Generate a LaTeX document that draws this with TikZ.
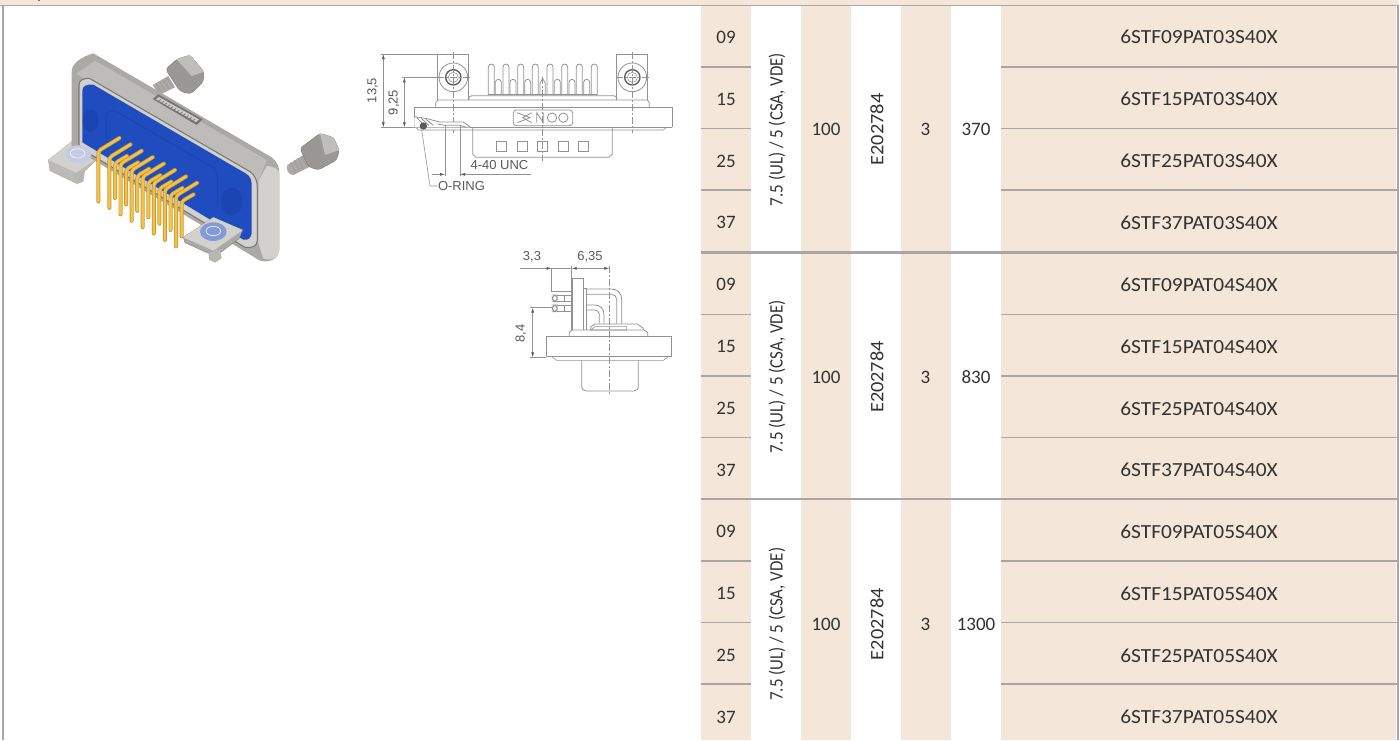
\documentclass[tikz,border=0pt]{standalone}
\usepackage{fontspec}
\setmainfont{Carlito}
\newfontfamily\tabfont{Carlito}
\newfontfamily\codefont[FakeStretch=1.07]{Carlito}
\newfontfamily\drawfont{Liberation Sans}
\usetikzlibrary{arrows.meta}
\definecolor{tan}{HTML}{F4E6D8}
\definecolor{rule}{HTML}{A9A7A5}
\definecolor{techline}{HTML}{929292}
\definecolor{techtext}{HTML}{5A5A5A}
\definecolor{tabtext}{HTML}{333333}
\definecolor{steel}{HTML}{ABA9A5}
\definecolor{steellight}{HTML}{D2D1CD}
\definecolor{steeldark}{HTML}{76756F}
\definecolor{blueb}{HTML}{1F4DC0}
\definecolor{bluedark}{HTML}{1A45B2}
\definecolor{goldd}{HTML}{C4952F}
\definecolor{goldl}{HTML}{F2C14A}
\definecolor{ringa}{HTML}{8399DA}
\definecolor{ringb}{HTML}{C3CCE2}
\tikzset{
  tabtxt/.style={font=\tabfont\fontsize{19}{21}\selectfont,text=tabtext,inner sep=0pt,anchor=center},
  codetxt/.style={font=\codefont\fontsize{20}{22}\selectfont,text=tabtext,inner sep=0pt,anchor=center},
  certtxt/.style={font=\codefont\fontsize{19}{21}\selectfont,text=tabtext,inner sep=0pt,anchor=center},
  rowrule/.style={draw=rule,line width=1.3pt},
  grouprule/.style={draw=rule,line width=2.2pt},
  tl/.style={draw=techline,line width=.8pt},
  tlfine/.style={draw=techline,line width=.6pt},
  centre/.style={draw=techline,line width=.6pt,dash pattern=on 7pt off 2pt on 2pt off 2pt},
  dimarrow/.style={draw=techline,line width=.7pt,-{Latex[length=5pt,width=3pt,color=techtext]}},
  dimtwo/.style={draw=techline,line width=.7pt,{Latex[length=5pt,width=3pt,color=techtext]}-{Latex[length=5pt,width=3pt,color=techtext]}},
  dimtxt/.style={font=\drawfont\fontsize{13}{14}\selectfont,text=techtext,inner sep=0pt,anchor=center},
  pinback/.style={draw=goldd,line width=4pt,line cap=round,rounded corners=3pt},
  pinfront/.style={draw=goldl,line width=2.6pt,line cap=round,rounded corners=3pt},
  nutbody/.style={fill=steel!90!black,draw=steel!70!black,line width=.4pt,rounded corners=3pt},
}
\begin{document}
\begin{tikzpicture}[x=1pt,y=-1pt]
\useasboundingbox (0,0) rectangle (1399,740);
\fill[white] (0,0) rectangle (1399,740);
% header band
\fill[tan] (0,0) rectangle (1399,5);
\fill[steeldark] (37.5,0) rectangle (39.5,1);
\draw[rule,line width=1.6pt] (0,5.6) -- (1399,5.6);
\draw[rule,line width=1.6pt] (2.8,6) -- (2.8,740);
% table columns
\fill[tan] (701,6) rectangle (751,740);
\fill[tan] (801,6) rectangle (851,740);
\fill[tan] (901,6) rectangle (951,740);
\fill[tan] (1001,6) rectangle (1396,740);
\fill[rule] (1396.5,6) rectangle (1399,740);
% rules
\foreach \yy in {67,128.5,190,314.5,376,437.5,561,622.5,684}{
  \draw[rowrule] (701,\yy) -- (751,\yy);
  \draw[rowrule] (1001,\yy) -- (1397,\yy);
}
\foreach \yy in {252.5,499.3}{\draw[grouprule] (701,\yy) -- (1397,\yy);}
% table rows
\foreach \g/\sx/\cur/\base in {a/03/370/0,b/04/830/247.5,c/05/1300/494.7}{
  \pgfmathsetmacro{\ya}{37+\base}
  \pgfmathsetmacro{\yb}{99+\base}
  \pgfmathsetmacro{\yc}{161+\base}
  \pgfmathsetmacro{\yd}{222.5+\base}
  \pgfmathsetmacro{\ym}{129.5+\base}
  \node[tabtxt] (size09\g) at (726,\ya) {09};
  \node[tabtxt] (size15\g) at (726,\yb) {15};
  \node[tabtxt] (size25\g) at (726,\yc) {25};
  \node[tabtxt] (size37\g) at (726,\yd) {37};
  \node[tabtxt,rotate=90] (volt\g) at (777,\ym) {\scalebox{.89}[1]{7.5 (UL) / 5 (CSA, VDE)}};
  \node[tabtxt] (pot\g) at (826,\ym) {100};
  \node[certtxt,rotate=90] (cert\g) at (877,\ym) {E202784};
  \node[tabtxt] (kv\g) at (925.5,\ym) {3};
  \node[tabtxt] (cur\g) at (976,\ym) {\cur};
  \node[codetxt] (code09\g) at (1199,\ya) {6STF09PAT\sx S40X};
  \node[codetxt] (code15\g) at (1199,\yb) {6STF15PAT\sx S40X};
  \node[codetxt] (code25\g) at (1199,\yc) {6STF25PAT\sx S40X};
  \node[codetxt] (code37\g) at (1199,\yd) {6STF37PAT\sx S40X};
}
% ---------- 3D connector (coordinates in 3x zoom units)
\begin{scope}[x=.33333pt,y=-.33333pt]
  % back screw
  \fill[steel] (458,255) -- (505,228) -- (525,262) -- (478,285) -- cycle;
  \foreach \k in {0,1,2,3}{\draw[steeldark!70,line width=.9pt] (468+\k*11,252-\k*6) -- (486+\k*11,280-\k*6);}
  \fill[nutbody] (497,208) -- (530,178) -- (570,165) -- (612,215) -- (610,245) -- (572,282) -- (540,274) -- cycle;
  \fill[steel!75!white] (530,178) -- (570,165) -- (612,215) -- (575,228) -- cycle;
  % left bracket (behind frame)
  \fill[steel!80!white,draw=steel] (145,480) -- (215,425) -- (300,470) -- (255,512) -- (225,548) -- (150,512) -- cycle;
  \fill[steellight] (145,480) -- (215,425) -- (300,470) -- (228,518) -- cycle;
  \fill[steel!85!white] (220,525) -- (255,512) -- (250,545) -- (228,553) -- cycle;
  % frame
  \fill[steel] (215,215) .. controls (215,190) and (245,170) .. (280,160) -- (815,472) .. controls (832,485) and (838,500) .. (838,520) -- (838,745) .. controls (838,775) and (810,790) .. (780,782) -- (215,440) -- cycle;
  \fill[steellight] (775,545) -- (800,498) .. controls (825,500) and (838,505) .. (838,530) -- (838,745) .. controls (838,770) and (815,785) .. (790,775) -- (775,730) -- cycle;
  \fill[steel!78!white] (228,222) -- (285,182) -- (800,480) -- (775,545) -- (262,240) -- cycle;
  % recess
  \fill[steellight,draw=steeldark,line width=1pt] (237,255) .. controls (237,240) and (250,235) .. (268,235) -- (750,515) .. controls (768,528) and (772,545) .. (772,565) -- (772,720) .. controls (772,740) and (755,745) .. (735,742) -- (237,442) -- cycle;
  % blue insert
  \fill[blueb] (247,272) .. controls (247,258) and (260,252) .. (280,254) -- (740,522) .. controls (752,530) and (755,542) .. (755,556) -- (755,698) .. controls (755,713) and (744,722) .. (730,719) -- (247,427) -- cycle;
  \draw[bluedark,line width=1pt] (320,420) -- (320,345) .. controls (322,332) and (335,328) .. (350,335) -- (635,500) .. controls (650,510) and (652,520) .. (652,535) -- (652,620);
  \fill[bluedark] (695,605) ellipse [x radius=32,y radius=42];
  \fill[bluedark] (272,362) ellipse [x radius=24,y radius=34];
  % label plate
  \fill[steeldark] (458,297) -- (475,283) -- (608,358) -- (590,375) -- cycle;
  \fill[steel!60!white] (468,298) -- (477,291) -- (597,358) -- (588,366) -- cycle;
  \foreach \k in {0,...,11}{\draw[steeldark,line width=.7pt] (482+\k*9.3,298+\k*5.4) -- (474+\k*9.3,304+\k*5.4);}
  % right bracket
  \fill[steel,draw=steel!70!black,line width=.3pt] (550,712) -- (640,652) -- (728,690) -- (718,715) -- (645,770) -- (625,760) -- (555,728) -- cycle;
  \fill[steellight] (550,712) -- (640,652) -- (728,690) -- (640,752) -- cycle;
  \fill[steel!85!white] (625,758) -- (660,748) -- (665,775) -- (645,788) -- (628,780) -- cycle;
  \fill[ringa] (640,695) ellipse [x radius=40,y radius=28];
  \draw[white!85!steel,line width=.7pt] (640,693) ellipse [x radius=22,y radius=14];
  % left ring
  \fill[ringb] (235,462) ellipse [x radius=40,y radius=26];
  \draw[white!85!steel,line width=.7pt] (233,460) ellipse [x radius=22,y radius=14];
  % front screw
  \fill[steel] (862,495) -- (910,465) -- (930,500) -- (880,525) .. controls (865,525) and (858,510) .. (862,495) -- cycle;
  \foreach \k in {0,1,2,3}{\draw[steeldark!70,line width=.9pt] (872+\k*11,487-\k*6) -- (888+\k*11,520-\k*6);}
  \fill[nutbody] (900,445) -- (960,400) -- (1000,412) -- (1018,450) -- (1010,480) -- (955,510) -- (925,500) -- cycle;
  \fill[steel!75!white] (960,400) -- (1000,412) -- (1018,450) -- (975,465) -- cycle;
\end{scope}
% pins
\foreach \i in {0,...,7}{
  \pgfmathsetmacro{\lx}{98.3+11.1*\i}
  \pgfmathsetmacro{\ltop}{151+6.4*\i}
  \pgfmathsetmacro{\ltip}{201.5+6.4*\i}
  \pgfmathsetmacro{\lex}{119.5+11.1*\i}
  \pgfmathsetmacro{\ley}{138+6.4*\i}
  \ifnum\i<7
    \pgfmathsetmacro{\sx}{115+11.1*\i}
    \pgfmathsetmacro{\stop}{163+6.4*\i}
    \pgfmathsetmacro{\stip}{198+6.4*\i}
    \pgfmathsetmacro{\sex}{127+11.1*\i}
    \pgfmathsetmacro{\sey}{156+6.4*\i}
    \draw[pinback] (\sex,\sey) -- (\sx,\stop) -- (\sx,\stip);
    \draw[pinfront] (\sex,\sey) -- (\sx,\stop) -- (\sx,\stip);
  \fi
  \draw[pinback] (\lex,\ley) -- (\lx,\ltop) -- (\lx,\ltip);
  \draw[pinfront] (\lex,\ley) -- (\lx,\ltop) -- (\lx,\ltip);
}
% ---------- drawing 1
\begin{scope}[shift={(350,20)},x=.33333pt,y=-.33333pt]
  % dimensions
  \draw[tlfine] (92,102) -- (355,102);
  \draw[tlfine] (92,322) -- (195,322);
  \draw[tlfine] (155,172) -- (265,172);
  \draw[dimtwo] (100,102) -- (100,322);
  \draw[dimtwo] (163,172) -- (163,322);
  % mounts
  \draw[tl] (263,240) -- (263,102) -- (355,102) -- (355,240);
  \draw[tl] (800,240) -- (800,102) -- (893,102) -- (893,240);
  \foreach \cx in {310,847}{
    \draw[tl,fill=white] (\cx,172) circle (43);
    \draw[draw=techtext,line width=1.3pt] (\cx,172) circle (23);
    \draw[tlfine] (\cx,172) circle (15);
  }
  \draw[centre] (310,96) -- (310,338);
  \draw[centre] (847,96) -- (847,338);
  \draw[centre] (262,172) -- (362,172);
  \draw[centre] (799,172) -- (899,172);
  % long pins
  \foreach \px in {415,459,503,547,591,635,679,724}{
    \draw[tl] (\px,225) -- (\px,141) arc[start angle=180,end angle=360,radius=9] -- (\px+18,225);
  }
  % short pins
  \foreach \px in {436,480,524,613,657,701}{
    \draw[tl] (\px,225) -- (\px,187) arc[start angle=180,end angle=360,radius=9] -- (\px+18,225);
  }
  \draw[tl] (570,225) -- (570,190) -- (578,175) -- (586,190) -- (586,225);
  \draw[tlfine] (415,222) -- (742,222);
  % body
  \draw[tl] (257,262) -- (257,248) -- (265,240) -- (892,240) -- (898,248) -- (898,262);
  \draw[tl] (357,240) -- (357,232) -- (365,227) -- (792,227) -- (800,232) -- (800,240);
  \draw[tl] (192,322) -- (192,262) -- (967,262) -- (967,322);
  \draw[tl] (192,322) -- (967,322);
  \draw[tlfine] (197,322) -- (205,330) -- (940,330) -- (950,322);
  \draw[tl] (368,322) -- (368,402) -- (378,412) -- (777,412) -- (787,402) -- (787,322);
  % logo plate
  \draw[tl,rounded corners=3pt] (490,270) rectangle (668,317);
  \draw[tl] (502,278) -- (540,293) -- (502,308);
  \draw[tl] (545,278) -- (518,293) -- (545,308);
  \draw[tl] (560,308) -- (560,278) -- (580,308) -- (580,278);
  \draw[tl] (606,293) circle (14);
  \draw[tl] (640,293) circle (14);
  % windows
  \foreach \px in {440,502,563,625,685}{\draw[tl] (\px,365) rectangle (\px+30,393);}
  \draw[centre] (578,170) -- (578,422);
  % cut-away
  \fill[white] (193,292) -- (230,296) -- (268,306) -- (340,306) -- (362,322) -- (193,322) -- cycle;
  \draw[tl] (193,290) -- (232,296) -- (268,306) -- (340,306) -- (362,322);
  \foreach \k in {0,1,2}{\draw[tl] (200+\k*14,292+\k*3) -- (222+\k*14,316);}
  \draw[tl] (262,312) -- (285,316) -- (330,316) -- (350,322);
  \fill[techtext] (220,318) circle (11);
  \draw[tlfine] (215,330) -- (240,498) -- (262,498);
  \draw[tlfine] (285,315) -- (285,468);
  \draw[tlfine] (330,315) -- (330,468);
  \draw[dimarrow] (246,463) -- (285,463);
  \draw[dimarrow] (543,463) -- (330,463);
\end{scope}
\node[dimtxt,rotate=90] (dimA) at (372.7,90.5) {13,5};
\node[dimtxt,rotate=90] (dimB) at (394,102.5) {9,25};
\node[dimtxt] (dimC) at (499.5,165.5) {4-40 UNC};
\node[dimtxt] (dimD) at (461.5,186) {O-RING};
% ---------- drawing 2
\begin{scope}[shift={(500,235)},x=.33333pt,y=-.33333pt]
  \draw[dimarrow] (60,100) -- (155,100);
  \draw[dimtwo] (215,100) -- (328,100);
  \draw[tlfine] (155,100) -- (215,100);
  \draw[tlfine] (155,100) -- (155,168) -- (218,168);
  \draw[tlfine] (215,92) -- (215,285);
  \draw[tl] (218,285) -- (218,130) -- (250,130) -- (250,285);
  \draw[tl] (250,160) -- (258,160) -- (258,285);
  % pin tips
  \foreach \py in {180,210}{
    \draw[tl,rounded corners=4pt] (157,\py) -- (172,\py) -- (172,\py+20) -- (157,\py+20) -- cycle;
    \draw[tl] (172,\py) -- (218,\py) (172,\py+20) -- (218,\py+20);
    \draw[tlfine] (192,\py) -- (192,\py+20);
  }
  % bent pins
  \draw[tl] (258,162) -- (335,162) arc[start angle=270,end angle=360,radius=30] -- (365,265);
  \draw[tl] (258,178) -- (335,178) arc[start angle=270,end angle=360,radius=15] -- (350,265);
  \draw[tl] (258,210) -- (285,210) arc[start angle=270,end angle=360,radius=27] -- (312,265);
  \draw[tl] (258,225) -- (285,225) arc[start angle=270,end angle=360,radius=13] -- (298,265);
  % body
  \draw[tl] (138,303) rectangle (513,365);
  \draw[tl] (208,303) -- (208,292) -- (216,285) -- (432,285) -- (443,292) -- (443,303);
  \draw[tl] (272,285) -- (272,276) -- (285,267) -- (412,267) -- (430,280) -- (430,285);
  \draw[tlfine] (272,285) -- (380,285) -- (380,275) -- (285,275) -- (272,285);
  \draw[tlfine] (155,365) -- (170,376) -- (490,376) -- (505,365);
  \draw[tl] (245,376) -- (245,452) .. controls (245,462) and (250,468) .. (258,468) -- (402,468) .. controls (410,468) and (415,462) .. (415,452) -- (415,376);
  \draw[centre] (328,92) -- (328,476);
  % 8,4
  \draw[tlfine] (90,218) -- (157,218);
  \draw[tlfine] (90,367) -- (138,367);
  \draw[dimtwo] (98,218) -- (98,367);
\end{scope}
\node[dimtxt] (dimE) at (532,257) {3,3};
\node[dimtxt] (dimF) at (590,257) {6,35};
\node[dimtxt,rotate=90] (dimG) at (521,333.5) {8,4};
\end{tikzpicture}
\end{document}
